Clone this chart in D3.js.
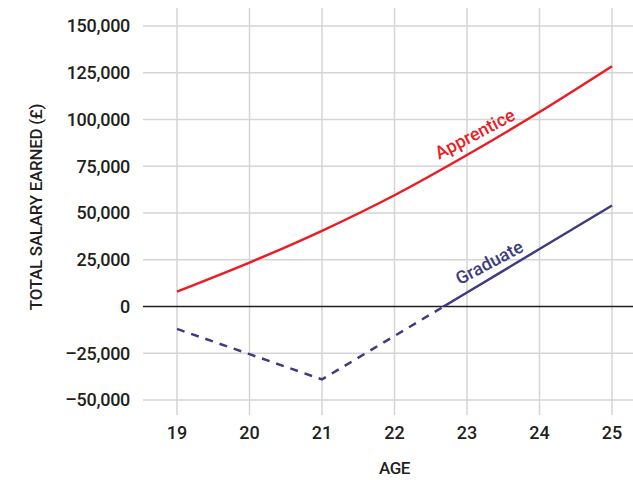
<!DOCTYPE html>
<html>
<head>
<meta charset="utf-8">
<script src="https://cdn.jsdelivr.net/npm/d3@7"></script>
<style>
  body { margin: 0; background: #fff; }
  svg text { font-family: Roboto, "Noto Sans", sans-serif; font-weight: 500; fill: #231f20; }
</style>
</head>
<body>
<div id="chart"></div>
<script>
const ages = [19, 20, 21, 22, 23, 24, 25];
const apprentice = [8000, 23500, 40500, 59500, 81000, 104000, 128500];
const graduate = [-12000, -25500, -39000, -15750, 7500, 30750, 54000];
const yTicks = [-50000, -25000, 0, 25000, 50000, 75000, 100000, 125000, 150000];

const width = 633, height = 480;
const red = "#ed1c24", purple = "#403b7f";

const svg = d3.select("#chart").append("svg")
    .attr("width", width)
    .attr("height", height);

const x = d3.scaleLinear().domain([19, 25]).range([177, 612]);
const y = d3.scaleLinear().domain([-50000, 150000]).range([400, 26]);

// Grid
svg.append("g").selectAll("line")
    .data(ages)
    .join("line")
    .attr("x1", d => x(d)).attr("x2", d => x(d))
    .attr("y1", 8).attr("y2", 415)
    .attr("stroke", "#d5d5d5").attr("stroke-width", 1.5);

svg.append("g").selectAll("line")
    .data(yTicks.filter(d => d !== 0))
    .join("line")
    .attr("x1", 143).attr("x2", width)
    .attr("y1", d => y(d)).attr("y2", d => y(d))
    .attr("stroke", "#d5d5d5").attr("stroke-width", 1.5);

svg.append("line")
    .attr("x1", 143).attr("x2", width)
    .attr("y1", y(0)).attr("y2", y(0))
    .attr("stroke", "#231f20").attr("stroke-width", 1.5);

// Axis labels
const fmt = d3.format(",");
svg.append("g").selectAll("text")
    .data(yTicks)
    .join("text")
    .attr("x", 130)
    .attr("y", d => y(d))
    .attr("dy", "0.36em")
    .attr("text-anchor", "end")
    .style("font-size", "18px")
    .style("letter-spacing", "-0.3px")
    .text(d => d < 0 ? "\u2013" + fmt(-d) : fmt(d));

svg.append("g").selectAll("text")
    .data(ages)
    .join("text")
    .attr("x", d => x(d))
    .attr("y", 433)
    .attr("dy", "0.36em")
    .attr("text-anchor", "middle")
    .style("font-size", "18px")
    .text(d => d);

svg.append("text")
    .attr("x", x(22))
    .attr("y", 468)
    .attr("dy", "0.36em")
    .attr("text-anchor", "middle")
    .style("font-size", "17px")
    .style("letter-spacing", "-0.5px")
    .text("AGE");

svg.append("text")
    .attr("transform", `translate(36,${(y(0) + y(100000)) / 2 - 6}) rotate(-90)`)
    .attr("dy", "0.36em")
    .attr("text-anchor", "middle")
    .style("font-size", "17px")
    .style("letter-spacing", "-0.3px")
    .text("TOTAL SALARY EARNED (£)");

// Lines
const line = d3.line()
    .x((d, i) => x(ages[i]))
    .y(d => y(d));

svg.append("path")
    .attr("d", line.curve(d3.curveCatmullRom)(apprentice))
    .attr("fill", "none")
    .attr("stroke", red)
    .attr("stroke-width", 2.5);

// graduate: dashed below zero, solid above
const defs = svg.append("defs");
defs.append("clipPath").attr("id", "above")
    .append("rect").attr("x", 0).attr("y", 0).attr("width", width).attr("height", y(0));
defs.append("clipPath").attr("id", "below")
    .append("rect").attr("x", 0).attr("y", y(0)).attr("width", width).attr("height", height - y(0));

const gradPath = d3.line().x((d, i) => x(ages[i])).y(d => y(d))(graduate);
svg.append("path")
    .attr("d", gradPath)
    .attr("clip-path", "url(#below)")
    .attr("fill", "none")
    .attr("stroke", purple)
    .attr("stroke-width", 2.5)
    .attr("stroke-dasharray", "8,7");
svg.append("path")
    .attr("d", gradPath)
    .attr("clip-path", "url(#above)")
    .attr("fill", "none")
    .attr("stroke", purple)
    .attr("stroke-width", 2.5);

// Series labels along the lines
function label(text, color, age, vals, offset) {
    const i = Math.floor(age) - 19;
    const t = age - Math.floor(age);
    const v = vals[i] + (vals[i + 1] - vals[i]) * t;
    const px = x(age), py = y(v);
    const ang = Math.atan2(y(vals[i + 1]) - y(vals[i]), x(ages[i + 1]) - x(ages[i])) * 180 / Math.PI;
    svg.append("text")
        .attr("transform", `translate(${px},${py}) rotate(${ang + 3}) translate(0,${-offset})`)
        .attr("text-anchor", "middle")
        .style("font-size", "18px")
        .style("fill", color)
        .text(text);
}
label("Apprentice", red, 23.2, apprentice, 8);
label("Graduate", purple, 23.4, graduate, 8);
</script>
</body>
</html>
